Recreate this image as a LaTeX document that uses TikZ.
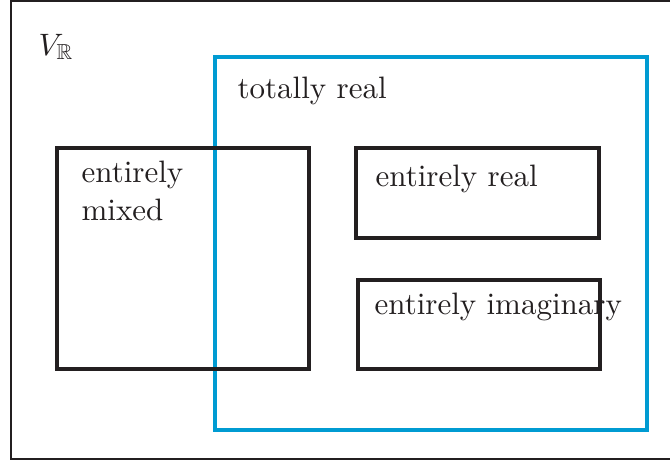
\documentclass[tikz,border=0pt]{standalone}
\usepackage{amssymb}
\definecolor{boxblack}{RGB}{35,31,32}
\definecolor{realblue}{RGB}{0,155,210}
\begin{document}
\begin{tikzpicture}[x=0.3227pt,y=-0.3227pt,
  outerbox/.style={draw=boxblack,line width=0.65pt},
  bluebox/.style={draw=realblue,line width=1.5pt},
  blackbox/.style={draw=boxblack,line width=1.5pt},
  lbl/.style={anchor=base west,inner sep=0pt,text=boxblack,align=left}]
\useasboundingbox (0,0) rectangle (670,461);
\draw[outerbox] (11,1) rectangle (680,459);
\draw[bluebox] (215,57) rectangle (647,430);
\draw[blackbox] (57,148) rectangle (309,369);
\draw[blackbox] (356,148) rectangle (599,238);
\draw[blackbox] (358,280) rectangle (600,369);
\node[lbl] (v) at (38,55) {$V_{\mathbb{R}}$};
\node[lbl] (tr) at (237,98) {totally real};
\node[lbl] (em) at (81,220) {entirely\\mixed};
\node[lbl] (er) at (375,186) {entirely real};
\node[lbl] (ei) at (374,314) {entirely imaginary};
\end{tikzpicture}
\end{document}
